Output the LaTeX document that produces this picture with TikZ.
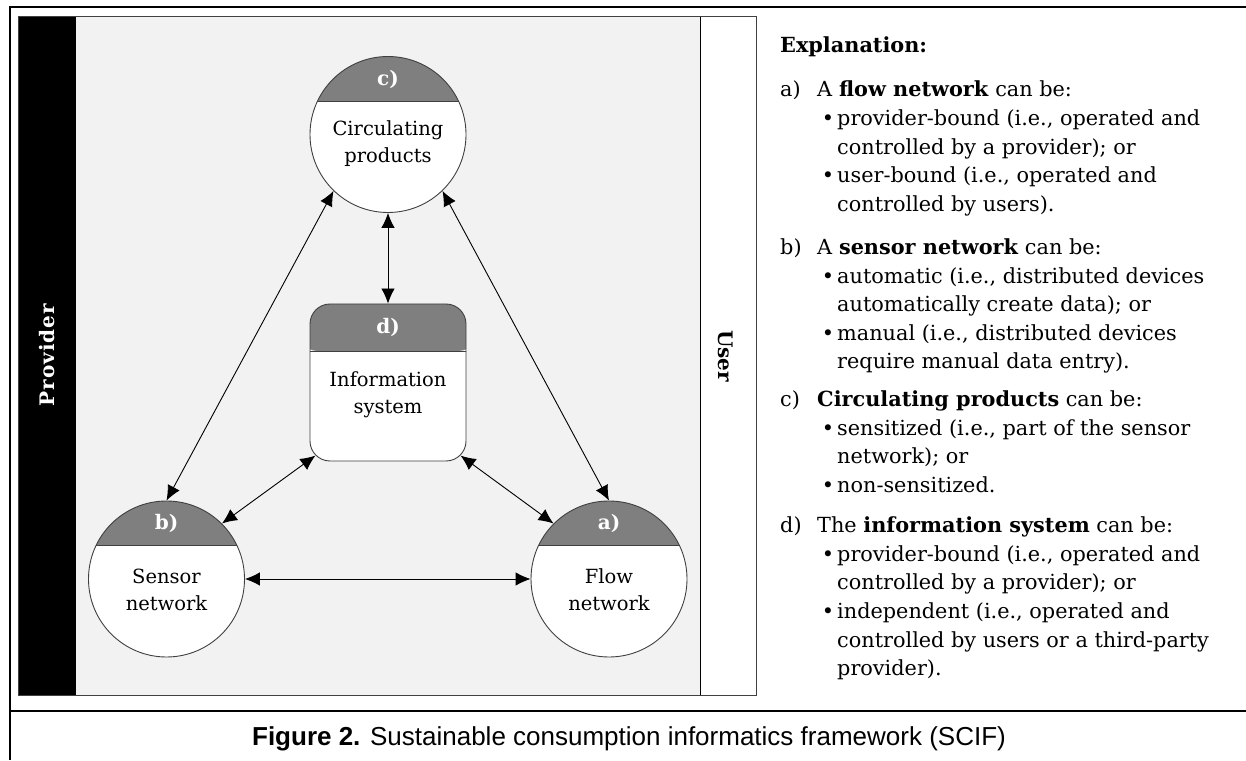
\documentclass[tikz,border=0pt]{standalone}
\usepackage{fontspec}
\setmainfont{DejaVu Serif}
\newfontfamily\capfont{Liberation Sans}
\usetikzlibrary{arrows.meta,calc}
\definecolor{capfill}{HTML}{7F7F7F}
\definecolor{panelgray}{HTML}{F2F2F2}
\definecolor{edgegray}{HTML}{404040}
\begin{document}
\begin{tikzpicture}[x=1pt,y=1pt,
  circ/.style={circle, draw=edgegray, line width=0.9pt, fill=white, minimum size=156pt, inner sep=0pt,
    path picture={
      \fill[capfill] ([shift={(-90,33.5)}]path picture bounding box.center) rectangle ([shift={(90,90)}]path picture bounding box.center);
      \draw[edgegray, line width=0.9pt] ([shift={(-90,33.5)}]path picture bounding box.center) -- ([shift={(90,33.5)}]path picture bounding box.center);
    }},
  isbox/.style={rectangle, rounded corners=20pt, draw=edgegray, line width=0.9pt, fill=white, minimum width=156pt, minimum height=157pt, inner sep=0pt,
    path picture={
      \fill[capfill] ([shift={(-90,31.5)}]path picture bounding box.center) rectangle ([shift={(90,90)}]path picture bounding box.center);
      \draw[edgegray, line width=0.9pt] ([shift={(-90,31.5)}]path picture bounding box.center) -- ([shift={(90,31.5)}]path picture bounding box.center);
    }},
  capl/.style={text=white, inner sep=0pt, font=\bfseries\fontsize{20}{24}\selectfont},
  bodyl/.style={align=center, inner sep=0pt, font=\fontsize{19.5}{27}\selectfont},
  conn/.style={{Latex[length=15pt,width=13.5pt]}-{Latex[length=15pt,width=13.5pt]}, line width=0.9pt, black},
  expl/.style={anchor=base west, inner sep=0pt, font=\fontsize{20.8}{28}\selectfont},
  sidel/.style={inner sep=0pt, font=\bfseries\fontsize{20}{24}\selectfont},
  frameline/.style={line width=2.3pt, black}
]
\useasboundingbox (0,0) rectangle (1246,760);
% outer frame
\draw[frameline] (9,753) -- (1246,753);
\draw[frameline] (10,754) -- (10,0);
\draw[line width=2pt] (10,49) -- (1246,49);
% panels
\fill[panelgray] (76,65) rectangle (700,744);
\fill[black] (18,65) rectangle (76,744);
\fill[white] (700,65) rectangle (756,744);
\draw[line width=0.9pt, black] (700,65) -- (700,744);
\draw[line width=0.9pt, edgegray] (18,65) rectangle (756,744);
% side labels
\node[sidel, rotate=90, text=white] (prov) at (47,405) {P\kern1pt r\kern1pt o\kern1pt v\kern1pt i\kern1pt d\kern1pt e\kern1pt r};
\node[sidel, rotate=-90, text=black] (user) at (726,404) {User};
% nodes
\node[circ] (c) at (388,625.5) {};
\node[circ] (b) at (166.5,181) {};
\node[circ] (a) at (609,181) {};
\node[isbox] (d) at (388,377.5) {};
\node[capl] (cl) at (388,681) {c)};
\node[capl] (bl) at (166.5,237) {b)};
\node[capl] (al) at (609,237) {a)};
\node[capl] (dl) at (388,432.5) {d)};
\node[bodyl] (ct) at (388,616) {Circulating\\products};
\node[bodyl] (bt) at (166.5,170) {Sensor\\network};
\node[bodyl] (at) at (609,170) {Flow\\network};
\node[bodyl] (dt) at (388,365) {Information\\system};
\coordinate (dsw) at ($(d.south west)+(5.86,5.86)$);
\coordinate (dse) at ($(d.south east)+(-5.86,5.86)$);
% connectors
\draw[conn] (c.south) -- (d.north);
\draw[conn] (b.north) -- (c.226);
\draw[conn] (a.north) -- (c.314);
\draw[conn] (b.east) -- (a.west);
\draw[conn] (b.45) -- (dsw);
\draw[conn] (a.135) -- (dse);
% explanation
\node[expl] (e0) at (780,707) {\textbf{Explanation:}};
\node[expl] (la) at (780,663) {a)};
\node[expl] (e1) at (817,663) {A \textbf{flow network} can be:};
\node[expl] (e2) at (837,634) {\llap{•\hspace{3pt}}provider-bound (i.e., operated and};
\node[expl] (e3) at (837,605.5) {controlled by a provider); or};
\node[expl] (e4) at (837,577) {\llap{•\hspace{3pt}}user-bound (i.e., operated and};
\node[expl] (e5) at (837,548.5) {controlled by users).};
\node[expl] (lb) at (780,505) {b)};
\node[expl] (e6) at (817,505) {A \textbf{sensor network} can be:};
\node[expl] (e7) at (837,476.5) {\llap{•\hspace{3pt}}automatic (i.e., distributed devices};
\node[expl] (e8) at (837,448) {automatically create data); or};
\node[expl] (e9) at (837,419.5) {\llap{•\hspace{3pt}}manual (i.e., distributed devices};
\node[expl] (e10) at (837,391) {require manual data entry).};
\node[expl] (lc) at (780,353) {c)};
\node[expl] (e11) at (817,353) {\textbf{Circulating products} can be:};
\node[expl] (e12) at (837,324.5) {\llap{•\hspace{3pt}}sensitized (i.e., part of the sensor};
\node[expl] (e13) at (837,296) {network); or};
\node[expl] (e14) at (837,267.5) {\llap{•\hspace{3pt}}non-sensitized.};
\node[expl] (ld) at (780,227) {d)};
\node[expl] (e15) at (817,227) {The \textbf{information system} can be:};
\node[expl] (e16) at (837,198.5) {\llap{•\hspace{3pt}}provider-bound (i.e., operated and};
\node[expl] (e17) at (837,170) {controlled by a provider); or};
\node[expl] (e18) at (837,141.5) {\llap{•\hspace{3pt}}independent (i.e., operated and};
\node[expl] (e19) at (837,113) {controlled by users or a third-party};
\node[expl] (e20) at (837,84.5) {provider).};
% caption
\node[anchor=base, inner sep=0pt, font=\capfont\fontsize{26}{30}\selectfont] (cap) at (629,15) {\textbf{Figure 2.} Sustainable consumption informatics framework (SCIF)};
\end{tikzpicture}
\end{document}
